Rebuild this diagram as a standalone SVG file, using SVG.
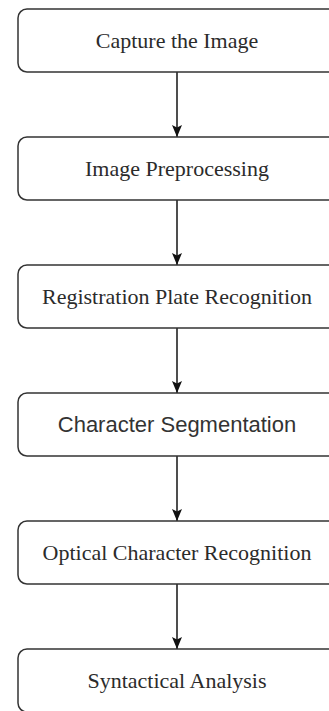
<svg xmlns="http://www.w3.org/2000/svg" width="329" height="711" viewBox="0 0 329 711">
<defs>
<style>
.box{fill:#ffffff;stroke:#333333;stroke-width:1.5}
.t{font-family:"Liberation Serif","Times New Roman",serif;font-size:22px;fill:#2b2b2b;text-anchor:middle}
.s{font-family:"Liberation Sans",Arial,sans-serif;font-size:22px;fill:#333333;text-anchor:middle}
.c{stroke:#222222;stroke-width:1.6;fill:none}
</style>
<marker id="arr" viewBox="0 0 12 10" refX="12" refY="5" markerWidth="12" markerHeight="10" markerUnits="userSpaceOnUse" orient="auto">
<path d="M0,0 L12,5 L0,10 L2.5,5 z" fill="#111111"/>
</marker>
</defs>
<rect width="329" height="711" fill="#ffffff"/>
<g id="connectors">
<line class="c" x1="177" y1="72" x2="177" y2="137" marker-end="url(#arr)"/>
<line class="c" x1="177" y1="200" x2="177" y2="265" marker-end="url(#arr)"/>
<line class="c" x1="177" y1="328" x2="177" y2="393" marker-end="url(#arr)"/>
<line class="c" x1="177" y1="456" x2="177" y2="521" marker-end="url(#arr)"/>
<line class="c" x1="177" y1="584" x2="177" y2="649" marker-end="url(#arr)"/>
</g>
<g id="n1"><rect class="box" x="18" y="9" width="330" height="63" rx="9"/><text class="t" x="177" y="48">Capture the Image</text></g>
<g id="n2"><rect class="box" x="18" y="137" width="330" height="63" rx="9"/><text class="t" x="177" y="176">Image Preprocessing</text></g>
<g id="n3"><rect class="box" x="18" y="265" width="330" height="63" rx="9"/><text class="t" x="177" y="304">Registration Plate Recognition</text></g>
<g id="n4"><rect class="box" x="18" y="393" width="330" height="63" rx="9"/><text class="s" x="177" y="432">Character Segmentation</text></g>
<g id="n5"><rect class="box" x="18" y="521" width="330" height="63" rx="9"/><text class="t" x="177" y="560">Optical Character Recognition</text></g>
<g id="n6"><rect class="box" x="18" y="649" width="330" height="63" rx="9"/><text class="t" x="177" y="688">Syntactical Analysis</text></g>
</svg>
